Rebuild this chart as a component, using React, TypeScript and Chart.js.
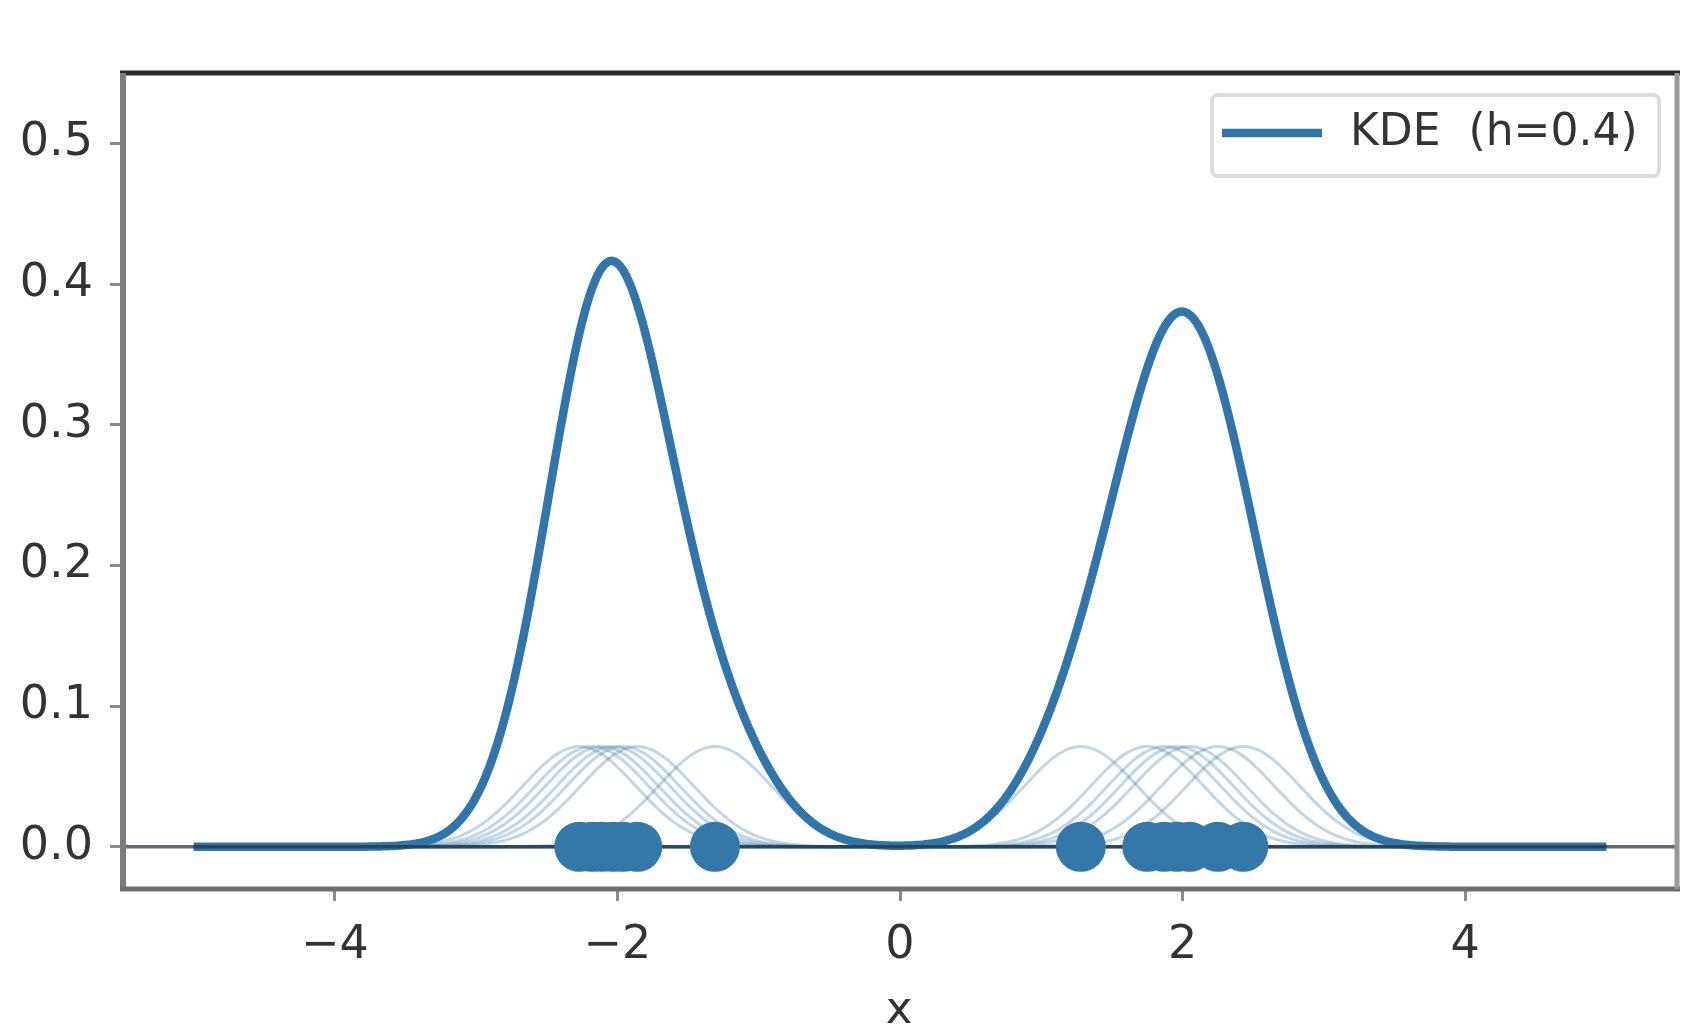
import { useEffect, useRef } from 'react';
import { Chart, registerables } from 'chart.js';

Chart.register(...registerables);

// ---- data ----
const samplesLeft = [-2.27, -2.18, -2.11, -2.03, -1.96, -1.86, -1.31];
const samplesRight = [1.28, 1.75, 1.87, 1.96, 2.05, 2.25, 2.43];
const bandwidth = 0.4; // from legend "h=0.4"
const curveRange = [-5, 5];
const xTicks = [-4, -2, 0, 2, 4];
const yTicks = [0, 0.1, 0.2, 0.3, 0.4, 0.5];
const xLimits = [-5.5, 5.5];
const yLimits = [-0.03, 0.55];
const legendLabel = 'KDE  (h=0.4)';
const xLabel = 'x';

const W = 1683;
const H = 1031;
const BLUE = '#3176ab';
const FONT = '"DejaVu Sans", sans-serif';

function buildGrid(): number[] {
  const out: number[] = [];
  const steps = 500;
  for (let i = 0; i <= steps; i++) {
    out.push(curveRange[0] + ((curveRange[1] - curveRange[0]) * i) / steps);
  }
  return out;
}

export default function App() {
  const ref = useRef<HTMLCanvasElement | null>(null);

  useEffect(() => {
    document.body.style.margin = '0';
    document.body.style.overflow = 'hidden';
    const canvas = ref.current;
    if (!canvas) return;

    const samples = [...samplesLeft, ...samplesRight];
    const n = samples.length;
    const grid = buildGrid();
    const norm = 1 / (bandwidth * Math.sqrt(2 * Math.PI) * n);
    const kernel = (x: number, xi: number) =>
      norm * Math.exp(-0.5 * ((x - xi) / bandwidth) ** 2);

    const kernelSets = samples.map((xi) => ({
      type: 'line' as const,
      label: '',
      data: grid.map((x) => ({ x, y: kernel(x, xi) })),
      borderColor: 'rgba(49,118,171,0.3)',
      borderWidth: 3,
      pointRadius: 0,
      order: 4,
    }));

    const kde = grid.map((x) => ({
      x,
      y: samples.reduce((s, xi) => s + kernel(x, xi), 0),
    }));

    const spinesPlugin = {
      id: 'spinesLegend',
      afterDraw(chart: any) {
        const { ctx, chartArea: a } = chart;
        ctx.save();
        ctx.lineCap = 'butt';
        const line = (x1: number, y1: number, x2: number, y2: number, c: string, w: number) => {
          ctx.strokeStyle = c;
          ctx.lineWidth = w;
          ctx.beginPath();
          ctx.moveTo(x1, y1);
          ctx.lineTo(x2, y2);
          ctx.stroke();
        };
        line(a.left - 3, a.top, a.right + 3, a.top, '#2a2a2a', 5);
        line(a.left, a.top, a.left, a.bottom + 2, '#7d7d7d', 6);
        line(a.left - 3, a.bottom, a.right + 3, a.bottom, '#6f6f6f', 5);
        line(a.right, a.top, a.right, a.bottom, '#9a9a9a', 5);

        // legend
        const lx = 1212, ly = 95, lw = 447, lh = 81, r = 6;
        ctx.beginPath();
        ctx.moveTo(lx + r, ly);
        ctx.arcTo(lx + lw, ly, lx + lw, ly + lh, r);
        ctx.arcTo(lx + lw, ly + lh, lx, ly + lh, r);
        ctx.arcTo(lx, ly + lh, lx, ly, r);
        ctx.arcTo(lx, ly, lx + lw, ly, r);
        ctx.closePath();
        ctx.fillStyle = 'rgba(255,255,255,0.85)';
        ctx.fill();
        ctx.strokeStyle = '#dcdcdc';
        ctx.lineWidth = 4;
        ctx.stroke();
        line(1222, 133, 1322, 133, BLUE, 8.5);
        ctx.fillStyle = '#333';
        ctx.font = `44px ${FONT}`;
        ctx.textAlign = 'left';
        ctx.textBaseline = 'middle';
        ctx.fillText(legendLabel, 1350, 134);

        // x axis label
        ctx.textAlign = 'center';
        ctx.textBaseline = 'alphabetic';
        ctx.font = `45px ${FONT}`;
        ctx.fillText(xLabel, 899, 1023);
        ctx.restore();
      },
    };

    const chart = new Chart(canvas, {
      type: 'line',
      data: {
        datasets: [
          {
            type: 'scatter',
            label: 'data',
            data: samples.map((x) => ({ x, y: 0 })),
            backgroundColor: '#3477a9',
            borderWidth: 0,
            pointRadius: 25,
            pointHoverRadius: 25,
            order: 0,
          } as any,
          {
            type: 'line',
            label: 'baseline',
            data: [
              { x: xLimits[0], y: 0 },
              { x: xLimits[1], y: 0 },
            ],
            borderColor: 'rgba(35,45,60,0.7)',
            borderWidth: 3.5,
            pointRadius: 0,
            order: 1,
          },
          {
            type: 'line',
            label: legendLabel,
            data: kde,
            borderColor: BLUE,
            borderWidth: 8.5,
            pointRadius: 0,
            order: 2,
          },
          ...kernelSets,
        ],
      },
      options: {
        responsive: false,
        animation: false,
        devicePixelRatio: 1,
        events: [],
        layout: { autoPadding: false, padding: { left: 0, top: 73, right: 6, bottom: 0 } },
        plugins: {
          legend: { display: false },
          tooltip: { enabled: false },
          title: { display: false },
        },
        scales: {
          x: {
            type: 'linear',
            min: xLimits[0],
            max: xLimits[1],
            afterBuildTicks: (s: any) => {
              s.ticks = xTicks.map((v) => ({ value: v }));
            },
            afterFit: (s: any) => {
              s.height = H - 889;
              s.paddingLeft = 0;
              s.paddingRight = 0;
            },
            grid: {
              drawOnChartArea: false,
              drawTicks: true,
              tickLength: 12,
              tickColor: '#8a8a8a',
              tickWidth: 3,
            },
            border: { display: false },
            ticks: {
              padding: 17,
              color: '#333',
              font: { family: FONT, size: 46 },
              maxRotation: 0,
              autoSkip: false,
              callback: (v: any) => (Number(v) < 0 ? '\u2212' + Math.abs(Number(v)) : String(v)),
            },
          },
          y: {
            type: 'linear',
            min: yLimits[0],
            max: yLimits[1],
            afterBuildTicks: (s: any) => {
              s.ticks = yTicks.map((v) => ({ value: v }));
            },
            afterFit: (s: any) => {
              s.width = 123;
              s.paddingTop = 0;
              s.paddingBottom = 0;
            },
            grid: {
              drawOnChartArea: false,
              drawTicks: true,
              tickLength: 13,
              tickColor: '#8a8a8a',
              tickWidth: 3,
            },
            border: { display: false },
            ticks: {
              padding: 17,
              color: '#333',
              font: { family: FONT, size: 46 },
              autoSkip: false,
              callback: (v: any) => Number(v).toFixed(1),
            },
          },
        },
      },
      plugins: [spinesPlugin],
    } as any);

    return () => chart.destroy();
  }, []);

  return (
    <div style={{ width: W, height: H, background: '#fff' }}>
      <canvas ref={ref} width={W} height={H} style={{ width: W, height: H, display: 'block' }} />
    </div>
  );
}
